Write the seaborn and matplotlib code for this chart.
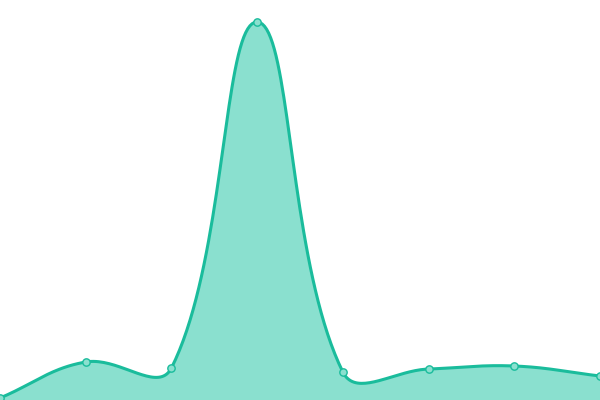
import matplotlib
matplotlib.use("Agg")
import matplotlib.pyplot as plt
import numpy as np
import pandas as pd
import seaborn as sns

# chart values (y axis runs 0..400)
labels = ["A", "B", "C", "D", "E", "F", "G", "H"]
values = [2, 38, 32, 378, 28, 31, 34, 24]

LINE = "#1abc9c"
FILL = "#8ae0cf"


def spline_path(px, py, tension=0.4, steps=40):
    # bezier spline through the points, control points like chart.js
    n = len(px)
    cp_prev = np.zeros((n, 2))
    cp_next = np.zeros((n, 2))
    pts = np.column_stack([px, py])
    for i in range(n):
        prev = pts[max(i - 1, 0)]
        cur = pts[i]
        nxt = pts[min(i + 1, n - 1)]
        d01 = np.hypot(*(cur - prev))
        d12 = np.hypot(*(nxt - cur))
        tot = d01 + d12
        fa = tension * d01 / tot if tot else 0
        fb = tension * d12 / tot if tot else 0
        cp_prev[i] = cur - fa * (nxt - prev)
        cp_next[i] = cur + fb * (nxt - prev)
    xs, ys = [], []
    t = np.linspace(0, 1, steps)[:, None]
    for i in range(n - 1):
        p0, p1, p2, p3 = pts[i], cp_next[i], cp_prev[i + 1], pts[i + 1]
        seg = ((1 - t) ** 3) * p0 + 3 * ((1 - t) ** 2) * t * p1 + 3 * (1 - t) * t ** 2 * p2 + t ** 3 * p3
        xs.extend(seg[:, 0])
        ys.extend(seg[:, 1])
    return np.array(xs), np.array(ys)


sns.set_style("white")
fig = plt.figure(figsize=(6, 4), dpi=100)
ax = fig.add_axes([0, 0, 1, 1])

df = pd.DataFrame({"label": labels, "value": values})
df["pos"] = np.arange(len(labels))
xmax = len(labels) - 1

# work in pixel space so the curve shape follows screen distances
px = df["pos"].to_numpy() * 600.0 / xmax
py = df["value"].to_numpy(dtype=float)
sx, sy = spline_path(px, py)
sx = sx * xmax / 600.0

ax.fill_between(sx, 0, sy, color=FILL, linewidth=0)
ax.plot(sx, sy, color=LINE, linewidth=2.2, solid_capstyle="round")
sns.scatterplot(data=df, x="pos", y="value", ax=ax, s=28, color=FILL,
                edgecolor=LINE, linewidth=1.0, zorder=5)

ax.set_xlim(0, xmax)
ax.set_ylim(0, 400)
ax.set_axis_off()

fig.savefig("out.png", dpi=100)
